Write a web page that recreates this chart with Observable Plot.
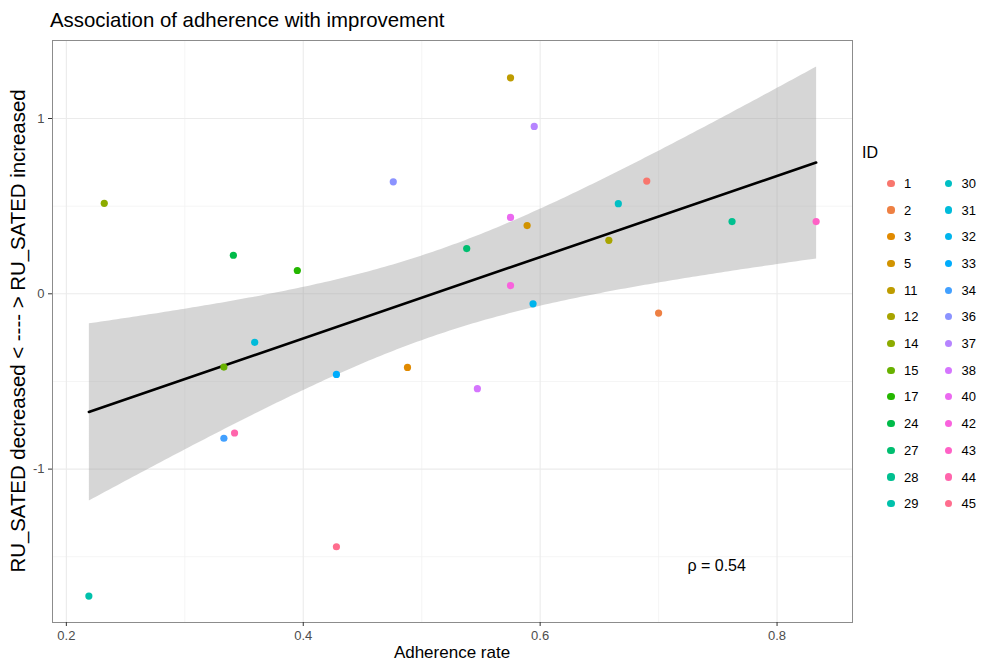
<!DOCTYPE html>
<html>
<head>
<meta charset="utf-8">
<script src="https://cdn.jsdelivr.net/npm/d3@7"></script>
<script src="https://cdn.jsdelivr.net/npm/@observablehq/plot@0.6"></script>
<style>
  body { margin: 0; background: #fff; font-family: "Liberation Sans", Arial, sans-serif; }
  #wrap { position: relative; width: 985px; height: 663px; overflow: hidden; }
  #wrap svg { position: absolute; left: 0; top: 0; }
  .abs { position: absolute; white-space: nowrap; line-height: 1; }
</style>
</head>
<body>
<div id="wrap"></div>
<script>
// ---- data ----
const ids       = [1, 2, 3, 5, 11, 12, 14, 15, 17, 24, 27, 28, 29, 30, 31, 32, 33, 34, 36, 37, 38, 40, 42, 43, 44, 45];
const adherence = [0.690, 0.700, 0.488, 0.589, 0.575, 0.658, 0.232, 0.333, 0.395, 0.341, 0.538, 0.762, 0.219, 0.666, 0.359, 0.594, 0.428, 0.333, 0.476, 0.595, 0.547, 0.575, 0.575, 0.833, 0.342, 0.428];
const change    = [0.643, -0.110, -0.420, 0.389, 1.232, 0.305, 0.516, -0.418, 0.133, 0.220, 0.258, 0.412, -1.724, 0.514, -0.277, -0.057, -0.460, -0.824, 0.639, 0.955, -0.541, 0.436, 0.047, 0.412, -0.794, -1.443];
const xTicksMajor = [0.2, 0.4, 0.6, 0.8];
const xTicksMinor = [0.3, 0.5, 0.7];
const yTicksMajor = [-1, 0, 1];
const yTicksMinor = [-1.5, -0.5, 0.5];
const titleText = "Association of adherence with improvement";
const xLabel = "Adherence rate";
const yLabel = "RU_SATED decreased < ---- > RU_SATED increased";
const legendTitle = "ID";
const rhoLabel = ["ρ = 0.54"];
const rhoX = [0.749];
const rhoY = [-1.553];

// ggplot2 hue palette (polarLUV hcl, c=100, l=65)
function hclHex(h, c, l) {
  const hr = h * Math.PI / 180;
  const U = c * Math.cos(hr), V = c * Math.sin(hr);
  const un = 0.1978398, vn = 0.4683363;
  const Y = 100 * (l > 7.999592 ? Math.pow((l + 16) / 116, 3) : l / 903.3);
  const u = U / (13 * l) + un, v = V / (13 * l) + vn;
  const X = 9 * Y * u / (4 * v);
  const Z = -X / 3 - 5 * Y + 3 * Y / v;
  const x = X / 100, y = Y / 100, z = Z / 100;
  const lin = [
    3.240479 * x - 1.537150 * y - 0.498535 * z,
    -0.969256 * x + 1.875992 * y + 0.041556 * z,
    0.055648 * x - 0.204043 * y + 1.057311 * z
  ];
  const g = t => t <= 0.00304 ? 12.92 * t : 1.055 * Math.pow(t, 1 / 2.4) - 0.055;
  return "#" + lin.map(t => {
    const s = Math.round(Math.max(0, Math.min(1, g(t))) * 255);
    return s.toString(16).padStart(2, "0");
  }).join("");
}
const n = ids.length;
const palette = ids.map((_, i) => hclHex(15 + 360 * i / n, 100, 65));

const points = ids.map((id, i) => ({id: String(id), x: adherence[i], y: change[i]}));
const rho = rhoLabel.map((t, i) => ({t, x: rhoX[i], y: rhoY[i]}));

const plot = Plot.plot({
  width: 985,
  height: 663,
  marginLeft: 52,
  marginRight: 133,
  marginTop: 40,
  marginBottom: 41,
  style: {fontFamily: "'Liberation Sans', Arial, sans-serif", background: "#fff"},
  x: {domain: [0.1883, 0.8637]},
  y: {domain: [-1.875, 1.445]},
  color: {domain: ids.map(String), range: palette},
  marks: [
    Plot.ruleX(xTicksMinor, {stroke: "#F2F2F2", strokeWidth: 0.8}),
    Plot.ruleY(yTicksMinor, {stroke: "#F2F2F2", strokeWidth: 0.8}),
    Plot.ruleX(xTicksMajor, {stroke: "#EBEBEB", strokeWidth: 1.1}),
    Plot.ruleY(yTicksMajor, {stroke: "#EBEBEB", strokeWidth: 1.1}),
    Plot.linearRegressionY(points, {x: "x", y: "y", ci: 0.95, stroke: "black", strokeWidth: 2.6, fill: "#999999", fillOpacity: 0.4}),
    Plot.dot(points, {x: "x", y: "y", fill: "id", r: 3.6, stroke: null}),
    Plot.text(rho, {x: "x", y: "y", text: "t", fontSize: 16, fill: "black"}),
    Plot.frame({stroke: "#8C8C8C", strokeWidth: 1}),
    Plot.axisX(xTicksMajor, {tickSize: 4, tickPadding: 4, fontSize: 13, color: "#4D4D4D", stroke: "#333", tickFormat: d => d.toFixed(1), label: null}),
    Plot.axisY(yTicksMajor, {tickSize: 4, tickPadding: 4, fontSize: 13, color: "#4D4D4D", stroke: "#333", tickFormat: d => String(d), label: null})
  ]
});
const wrap = document.getElementById("wrap");
wrap.appendChild(plot);

function addText(txt, css) {
  const d = document.createElement("div");
  d.className = "abs";
  d.textContent = txt;
  Object.assign(d.style, css);
  wrap.appendChild(d);
  return d;
}
addText(titleText, {left: "50px", top: "10px", fontSize: "20.4px", color: "#000"});
addText(xLabel, {left: "452px", top: "643.5px", fontSize: "17px", transform: "translateX(-50%)", color: "#000"});
addText(yLabel, {left: "18px", top: "331px", fontSize: "20.4px", transform: "translate(-50%,-50%) rotate(-90deg)", color: "#000"});
addText(legendTitle, {left: "862px", top: "145px", fontSize: "16px", color: "#000"});

// legend: two columns filled column-wise
const perCol = Math.ceil(n / 2);
ids.forEach((id, i) => {
  const col = Math.floor(i / perCol), row = i % perCol;
  const cy = 183.3 + row * 26.7;
  const cx = 891 + col * 57.5;
  const dot = document.createElement("div");
  dot.className = "abs";
  Object.assign(dot.style, {left: (cx - 3.6) + "px", top: (cy - 3.6) + "px", width: "7.2px", height: "7.2px", borderRadius: "50%", background: palette[i]});
  wrap.appendChild(dot);
  addText(String(id), {left: (cx + 13) + "px", top: (cy - 6.5) + "px", fontSize: "13px", color: "#000"});
});
</script>
</body>
</html>
